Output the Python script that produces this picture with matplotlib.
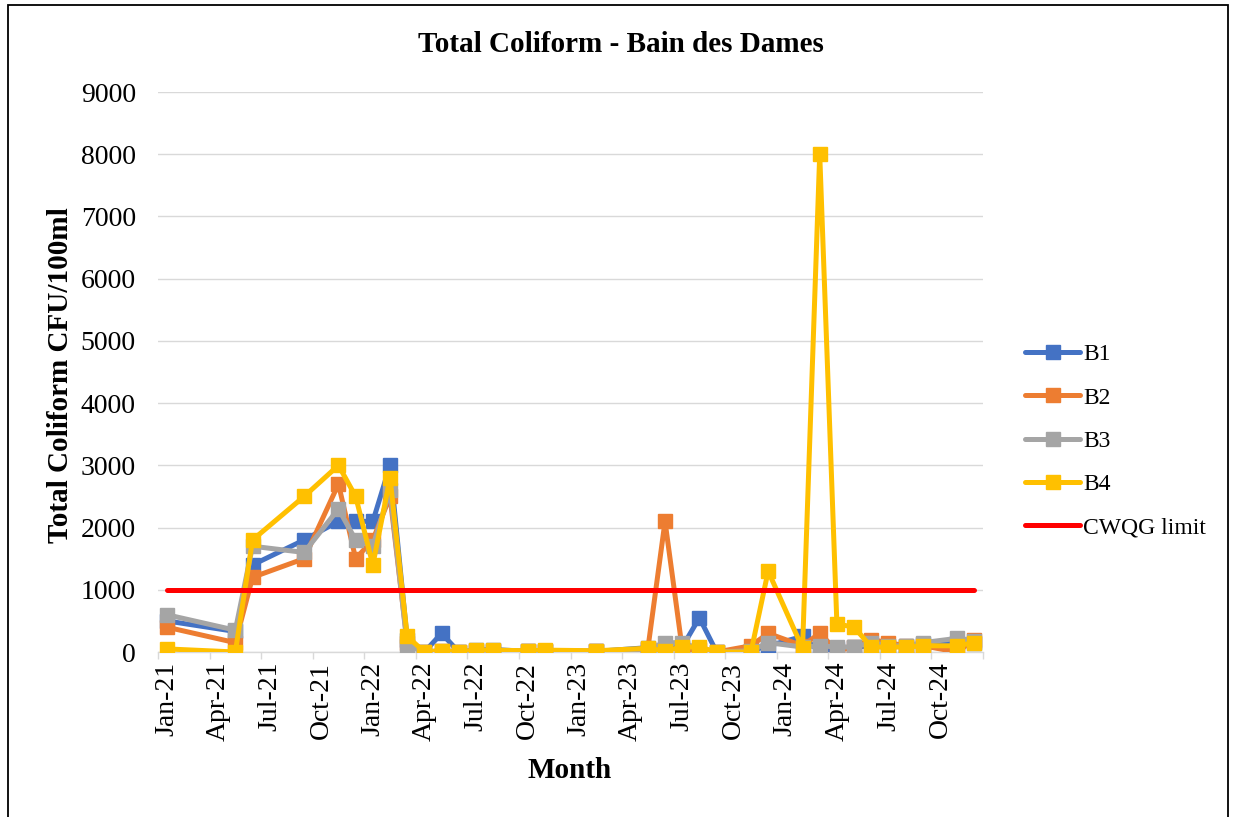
import matplotlib
matplotlib.use("Agg")
import matplotlib.pyplot as plt
from matplotlib.lines import Line2D
from matplotlib.patches import Rectangle

plt.rcParams['font.family'] = ['Liberation Serif', 'DejaVu Serif']

# ---- data ----
months = ["2021-01", "2021-05", "2021-06", "2021-09", "2021-11", "2021-12",
          "2022-01", "2022-02", "2022-03", "2022-04", "2022-05", "2022-06",
          "2022-07", "2022-08", "2022-10", "2022-11", "2023-02", "2023-05",
          "2023-06", "2023-07", "2023-08", "2023-09", "2023-11", "2023-12",
          "2024-02", "2024-03", "2024-04", "2024-05", "2024-06", "2024-07",
          "2024-08", "2024-09", "2024-11", "2024-12"]
b1 = [500, 330, 1400, 1800, 2100, 2100, 2100, 3000, 200, 0, 300, 0, 30, 40, 10, 20,
      10, 70, 50, 80, 550, 0, 20, 100, 250, 0, 50, 80, 100, 100, 100, 130, 150, 150]
b2 = [400, 150, 1200, 1500, 2700, 1500, 1800, 2500, 150, 0, 20, 0, 20, 20, 10, 20,
      10, 50, 2100, 50, 30, 0, 100, 300, 100, 300, 20, 80, 200, 150, 100, 100, 0, 200]
b3 = [600, 350, 1700, 1600, 2300, 1800, 1700, 2600, 100, 0, 20, 0, 0, 20, 10, 20,
      10, 50, 150, 150, 50, 0, 20, 150, 80, 100, 80, 80, 150, 100, 100, 150, 220, 180]
b4 = [50, 0, 1800, 2500, 3000, 2500, 1400, 2800, 250, 0, 20, 0, 30, 30, 20, 30,
      20, 60, 20, 80, 80, 0, 0, 1300, 60, 8000, 450, 400, 80, 80, 80, 100, 100, 150]
limit_value = 1000
series_names = ["B1", "B2", "B3", "B4"]
limit_name = "CWQG limit"
xtick_labels = ["Jan-21", "Apr-21", "Jul-21", "Oct-21", "Jan-22", "Apr-22", "Jul-22",
                "Oct-22", "Jan-23", "Apr-23", "Jul-23", "Oct-23", "Jan-24", "Apr-24",
                "Jul-24", "Oct-24"]
title = "Total Coliform - Bain des Dames"
xlabel = "Month"
ylabel = "Total Coliform CFU/100ml"

# month index relative to Jan-2021
def month_index(s):
    y, m = s.split("-")
    return (int(y) - 2021) * 12 + int(m) - 1

x = [month_index(s) for s in months]
n_months = 48

colors = ["#4472C4", "#ED7D31", "#A5A5A5", "#FFC000"]

W, H = 1233, 817
fig = plt.figure(figsize=(W / 100, H / 100), dpi=100)
ax = fig.add_axes([158 / W, 1 - 652 / H, (983 - 158) / W, (652 - 92) / H])

lw = 3.6
ms = 9.5
for vals, c, name in zip([b1, b2, b3, b4], colors, series_names):
    ax.plot(x, vals, color=c, lw=lw, marker="s", ms=ms, mec=c, mfc=c,
            solid_capstyle="round", solid_joinstyle="round", label=name, zorder=3)
ax.plot([x[0], n_months - 1], [limit_value, limit_value], color="#FF0000", lw=lw,
        solid_capstyle="round", label=limit_name, zorder=4)

ax.set_xlim(-0.5, n_months - 0.5)
ax.set_ylim(0, 9000)
ax.set_yticks(range(0, 9001, 1000))
ax.grid(axis="y", color="#D9D9D9", lw=1.0, zorder=0)
ax.set_axisbelow(True)
for s in ["top", "right", "left"]:
    ax.spines[s].set_visible(False)
ax.spines["bottom"].set_color("#D9D9D9")
ax.spines["bottom"].set_linewidth(1.0)
ax.tick_params(axis="y", length=0, labelsize=20, pad=16)

# major ticks at quarter boundaries (marks only), minor at month centers (labels)
ax.set_xticks([-0.5 + 3 * k for k in range(17)])
ax.set_xticklabels([])
ax.tick_params(axis="x", which="major", length=5, width=1, color="#D9D9D9")
ax.set_xticks([3 * k for k in range(16)], minor=True)
ax.set_xticklabels(xtick_labels, minor=True, rotation=90, fontsize=20)
ax.tick_params(axis="x", which="minor", length=0, pad=7)

fig.text(621 / W, 1 - 45 / H, title, ha="center", va="center", fontsize=21, fontweight="bold")
fig.text(570 / W, 1 - 770 / H, xlabel, ha="center", va="center", fontsize=21, fontweight="bold")
fig.text(60 / W, 1 - 375 / H, ylabel, ha="center", va="center", rotation=90, fontsize=21,
         fontweight="bold")

leg_handles = [Line2D([], [], color=c, lw=lw, marker="s", ms=ms, solid_capstyle="round")
               for c in colors] + [Line2D([], [], color="#FF0000", lw=lw, solid_capstyle="round")]
fig.legend(leg_handles, series_names + [limit_name], loc="center left",
           bbox_to_anchor=(1016 / W, 1 - 441 / H), frameon=False, fontsize=17,
           handlelength=2.3, handletextpad=0.15, labelspacing=0.92, borderaxespad=0)

fig.add_artist(Rectangle((8 / W, -0.02), (1228 - 8) / W, 1 - 5 / H + 0.02,
                         transform=fig.transFigure, fill=False, ec="black", lw=1.3))

fig.savefig("out.png", dpi=100)
